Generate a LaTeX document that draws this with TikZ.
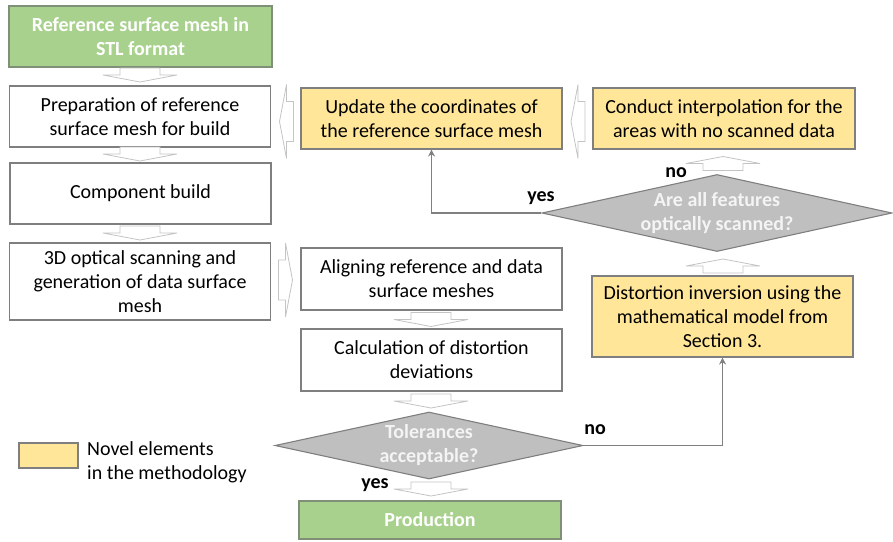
\documentclass[tikz,border=0pt]{standalone}
\usepackage{fontspec}
\setmainfont{Carlito}
\usetikzlibrary{shapes.geometric,arrows.meta,calc}

\definecolor{edgegray}{HTML}{7F7F7F}
\definecolor{conngray}{HTML}{808080}
\definecolor{arrowgray}{HTML}{C4C4C4}
\definecolor{startgreen}{HTML}{A9D18E}
\definecolor{greenedge}{HTML}{7F8F78}
\definecolor{novelyellow}{HTML}{FFE699}
\definecolor{decisiongray}{HTML}{BFBFBF}
\definecolor{decisiontext}{HTML}{F4F4F4}

\tikzset{
  x=1pt, y=-1pt,
  txt/.style={font=\fontsize{20}{24}\selectfont},
  boldtxt/.style={font=\fontsize{20}{24}\selectfont\bfseries},
  stepbox/.style={txt, draw=edgegray, line width=1.1pt, fill=white,
    align=center, inner sep=2pt, minimum width=261pt, minimum height=62pt},
  novel/.style={stepbox, fill=novelyellow},
  terminal/.style={stepbox, boldtxt, fill=startgreen, draw=greenedge, text=white},
  decision/.style={diamond, draw=edgegray, line width=1.1pt, fill=decisiongray,
    inner sep=0pt},
  decisionlabel/.style={boldtxt, text=decisiontext, align=center},
  answer/.style={boldtxt, text=black, inner sep=0pt},
  conn/.style={draw=conngray, line width=1.5pt,
    -{Stealth[length=7pt,width=7pt]}},
  pics/blockarrow/.style={code={
    \draw[arrowgray, line width=0.8pt, fill=white, line join=miter]
      (-7,-20) -- (0,-20) -- (0,-37) -- (7,0) -- (0,37) -- (0,20) -- (-7,20) -- cycle;
  }},
}

\begin{document}
\begin{tikzpicture}
\useasboundingbox (0,0) rectangle (893,541);

% left column: preparation and build
\node[terminal, minimum width=263pt, minimum height=61pt] (ref) at (140.5,36.5)
  {Reference surface mesh in\\STL format};
\node[stepbox, minimum height=61pt] (prep) at (140,116.5)
  {Preparation of reference\\surface mesh for build};
\node[stepbox, minimum height=61pt] (comp) at (140.5,193.5) {Component build};
\node[stepbox, minimum height=77pt] (scan) at (140,281.5)
  {3D optical scanning and\\generation of data surface\\mesh};

% middle column: evaluation
\node[novel, minimum height=61pt] (update) at (431.5,118.5)
  {Update the coordinates of\\the reference surface mesh};
\node[stepbox] (align) at (431.5,279) {Aligning reference and data\\surface meshes};
\node[stepbox] (calc) at (431.5,360) {Calculation of distortion\\deviations};
\node[decision, minimum width=308pt, minimum height=67pt] (tol) at (429,445.5) {};
\node[decisionlabel] (tolL) at (tol.center) {Tolerances\\acceptable?};
\node[terminal, minimum width=262pt, minimum height=38pt] (prod) at (430,520) {Production};

% right column: compensation
\node[novel, minimum width=262pt, minimum height=61pt] (interp) at (724,118.5)
  {Conduct interpolation for the\\areas with no scanned data};
\node[decision, minimum width=350pt, minimum height=77pt] (feat) at (717,213) {};
\node[decisionlabel] (featL) at (feat.center) {Are all features\\optically scanned?};
\node[novel, minimum height=81pt] (inv) at (722.5,316.5)
  {Distortion inversion using the\\mathematical model from\\Section 3.};

% legend
\node[novel, minimum width=59pt, minimum height=25pt, inner sep=0pt] (legbox) at (48.5,455.5) {};
\node[txt, anchor=north west, align=left, inner sep=0pt] (legtxt) at (87,441)
  {Novel elements\\in the methodology};

% hollow block arrows between steps
\pic[rotate=-90] at (140,75) {blockarrow};
\pic[rotate=-90] at (140,154) {blockarrow};
\pic[rotate=-90] at (140,233) {blockarrow};
\pic[rotate=180] at (286.5,121.5) {blockarrow};
\pic at (285.5,280) {blockarrow};
\pic[rotate=180] at (578,121.5) {blockarrow};
\pic[rotate=90] at (723,163.5) {blockarrow};
\pic[rotate=90] at (723,266) {blockarrow};
\pic[rotate=-90] at (431,319.5) {blockarrow};
\pic[rotate=-90] at (431,401) {blockarrow};
\pic[rotate=-90] at (431,489) {blockarrow};

% decision branches
\draw[conn] (feat.west) -| (update.south);
\draw[conn] (tol.east) -| (inv.south);
\node[answer] (yesA) at (541,198) {yes};
\node[answer] (noA) at (676,173) {no};
\node[answer] (noB) at (595,430) {no};
\node[answer] (yesB) at (375,485) {yes};
\end{tikzpicture}
\end{document}
